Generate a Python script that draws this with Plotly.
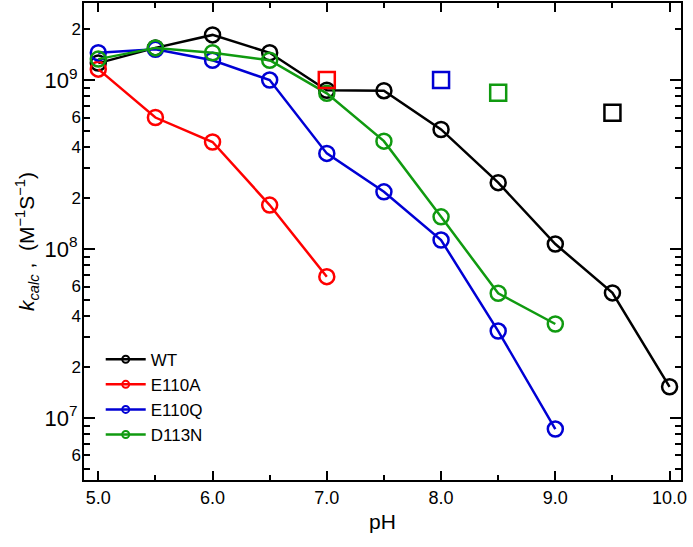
import plotly.graph_objects as go

# ---- data ----
ph_wt = [5.0, 5.5, 6.0, 6.5, 7.0, 7.5, 8.0, 8.5, 9.0, 9.5, 10.0]
k_wt = [1.26e9, 1.55e9, 1.85e9, 1.45e9, 8.7e8, 8.65e8, 5.1e8, 2.47e8, 1.07e8, 5.5e7, 1.53e7]

ph_e110a = [5.0, 5.5, 6.0, 6.5, 7.0]
k_e110a = [1.16e9, 6.0e8, 4.3e8, 1.82e8, 6.86e7]

ph_e110q = [5.0, 5.5, 6.0, 6.5, 7.0, 7.5, 8.0, 8.5, 9.0]
k_e110q = [1.45e9, 1.52e9, 1.31e9, 1.0e9, 3.68e8, 2.18e8, 1.13e8, 3.27e7, 8.6e6]

ph_d113n = [5.0, 5.5, 6.0, 6.5, 7.0, 7.5, 8.0, 8.5, 9.0]
k_d113n = [1.33e9, 1.55e9, 1.45e9, 1.31e9, 8.34e8, 4.35e8, 1.55e8, 5.47e7, 3.6e7]

# open squares (one per variant)
sq_ph = [7.0, 8.0, 8.5, 9.5]
sq_k = [1.0e9, 1.0e9, 8.4e8, 6.4e8]

names = ["WT", "E110A", "E110Q", "D113N"]
colors = ["#000000", "#ff0000", "#0000d4", "#109a10"]
sq_colors = ["#ff0000", "#0000d4", "#109a10", "#000000"]

x_ticks = [5, 6, 7, 8, 9, 10]
x_ticktext = ["5.0", "6.0", "7.0", "8.0", "9.0", "10.0"]
x_minor = [5.5, 6.5, 7.5, 8.5, 9.5]

y_major = [1e7, 1e8, 1e9]
y_major_text = ["10<sup>7</sup>", "10<sup>8</sup>", "10<sup>9</sup>"]
y_small = [6e6, 2e7, 4e7, 6e7, 2e8, 4e8, 6e8, 2e9]
y_small_text = ["6", "2", "4", "6", "2", "4", "6", "2"]
y_minor = [m * 10 ** e for e in (6, 7, 8, 9) for m in range(2, 10)]

series = [(ph_wt, k_wt), (ph_e110a, k_e110a), (ph_e110q, k_e110q), (ph_d113n, k_d113n)]

fig = go.Figure()
for (xs, ys), name, c in zip(series, names, colors):
    fig.add_trace(go.Scatter(
        x=xs, y=ys, mode="lines+markers", name=name, showlegend=False,
        line=dict(color=c, width=2.5),
        marker=dict(symbol="circle-open", size=15, color=c, line=dict(width=2.5, color=c)),
    ))
# legend-only entries with small markers
for name, c in zip(names, colors):
    fig.add_trace(go.Scatter(
        x=[None], y=[None], mode="lines+markers", name=name,
        line=dict(color=c, width=2.5),
        marker=dict(symbol="circle-open", size=7, color=c, line=dict(width=2, color=c)),
    ))
fig.add_trace(go.Scatter(
    x=sq_ph, y=sq_k, mode="markers", showlegend=False, yaxis="y2",
    marker=dict(symbol="square-open", size=16, color=sq_colors, line=dict(width=2.5, color=sq_colors)),
))

yrange = [6.633, 9.456]
font_family = "Arial, Liberation Sans, sans-serif"

fig.update_layout(
    width=693, height=547,
    margin=dict(l=84, r=12, t=3, b=67),
    plot_bgcolor="white", paper_bgcolor="white",
    font=dict(family=font_family, color="black"),
    showlegend=True,
    legend=dict(x=0.028, y=0.29, xanchor="left", yanchor="top",
                bgcolor="rgba(0,0,0,0)", font=dict(size=17, family=font_family),
                itemwidth=40, tracegroupgap=0),
    xaxis=dict(
        range=[4.875, 10.1], showgrid=False, zeroline=False, automargin=False,
        showline=True, linecolor="black", linewidth=2, mirror="ticks",
        ticks="inside", ticklen=9, tickwidth=1.5, tickcolor="black",
        tickvals=x_ticks, ticktext=x_ticktext, tickfont=dict(size=18),
        minor=dict(tickvals=x_minor, ticks="inside", ticklen=5, tickwidth=1.5, tickcolor="black"),
        title=dict(text="pH", font=dict(size=21), standoff=8),
    ),
    yaxis=dict(
        type="log", range=yrange, showgrid=False, zeroline=False, automargin=False,
        showline=True, linecolor="black", linewidth=2, mirror="ticks",
        ticks="inside", ticklen=11, tickwidth=1.5, tickcolor="black",
        tickvals=y_major, ticktext=y_major_text, tickfont=dict(size=22),
        minor=dict(tickvals=y_minor, ticks="inside", ticklen=6, tickwidth=1.5, tickcolor="black"),
        title=dict(text="<i>k</i><sub><i>calc</i></sub> ,  (M<sup>−1</sup>S<sup>−1</sup>)",
                   font=dict(size=21), standoff=4),
    ),
    yaxis2=dict(
        type="log", range=yrange, overlaying="y", side="left", anchor="x", automargin=False,
        showgrid=False, zeroline=False, showline=False,
        ticks="", tickvals=y_small, ticktext=y_small_text,
        tickfont=dict(size=17), ticklabelstandoff=2,
    ),
)

fig.write_html("out.html", config={"displayModeBar": False},
               post_script="document.body.style.margin='0';")
